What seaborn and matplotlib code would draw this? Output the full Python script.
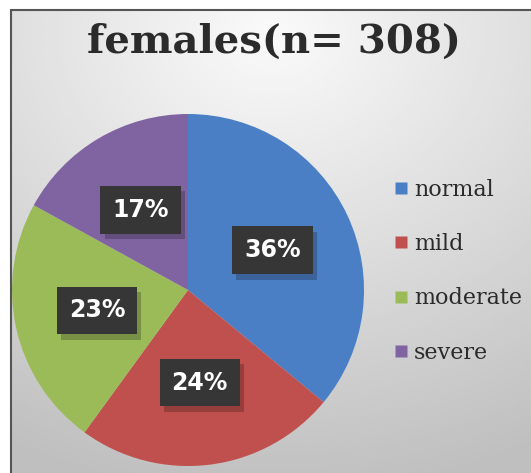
import numpy as np
import matplotlib
matplotlib.use("Agg")
import matplotlib.pyplot as plt
from matplotlib.lines import Line2D
from matplotlib.patches import Rectangle
import matplotlib.patheffects as pe
import seaborn as sns

categories = ["normal", "mild", "moderate", "severe"]
percent = [36, 24, 23, 17]
pct_labels = ["36%", "24%", "23%", "17%"]
colors = ["#4A7FC6", "#C0504D", "#9BBB59", "#8064A2"]
title = "females(n= 308)"

sns.set_theme(style="white")
plt.rcParams['font.family'] = ['DejaVu Serif']

W, H = 531, 473
fig = plt.figure(figsize=(W / 100, H / 100), dpi=100)
fig.patch.set_facecolor("white")

# background with soft gradient
bg = fig.add_axes([11 / W, 0, 1 - 11 / W, 1 - 10 / H])
yy, xx = np.mgrid[0:1:200j, 0:1:200j]
r = np.sqrt((xx - 0.5) ** 2 + ((yy - 0.05) * 1.1) ** 2)
val = 0.98 - 0.21 * np.clip(r, 0, 1.1)
bg.imshow(val, cmap="gray", vmin=0, vmax=1, aspect="auto", extent=[0, 1, 0, 1], origin="upper")
bg.set_xticks([]); bg.set_yticks([])
for s in bg.spines.values():
    s.set_visible(False)
fig.add_artist(Rectangle((11 / W, -0.01), 1.1, 1 - 10 / H + 0.01, transform=fig.transFigure,
                         fill=False, ec="#555555", lw=1.5, zorder=10))

# pie
cx, cy, R = 188, 290, 176
ax = fig.add_axes([(cx - R) / W, (H - cy - R) / H, 2 * R / W, 2 * R / H])
ax.set_facecolor("none")
wedges, texts, autotexts = ax.pie(percent, colors=colors, startangle=90, counterclock=False,
                                  autopct="%d%%", pctdistance=0.53, radius=1,
                                  wedgeprops=dict(linewidth=0))
for t, lab in zip(autotexts, pct_labels):
    t.set_text(lab)
    t.set_color("white")
    t.set_fontsize(17)
    t.set_fontweight("bold")
    t.set_family("DejaVu Sans")
    t.set_bbox(dict(boxstyle="square,pad=0.5", fc="#363636", ec="none"))
    t.get_bbox_patch().set_path_effects([
        pe.SimplePatchShadow(offset=(3, -4), shadow_rgbFace="black", alpha=0.22),
        pe.Normal()])
ax.set_xlim(-1, 1); ax.set_ylim(-1, 1)
ax.set_aspect("equal")

fig.text(274 / W, 1 - 42 / H, title, ha="center", va="center", fontsize=29,
         fontweight="bold", color="#2b2b2b", family="DejaVu Serif")

handles = [Line2D([0], [0], marker="s", color="none", markerfacecolor=c, markeredgecolor="none",
                  markersize=9) for c in colors]
fig.legend(handles, categories, loc="upper left", bbox_to_anchor=(383 / W, 1 - 170 / H),
           frameon=False, fontsize=16, labelspacing=1.45, handlelength=0.8, handletextpad=0.2,
           borderaxespad=0, labelcolor="#2b2b2b")

fig.savefig("out.png", dpi=100)
